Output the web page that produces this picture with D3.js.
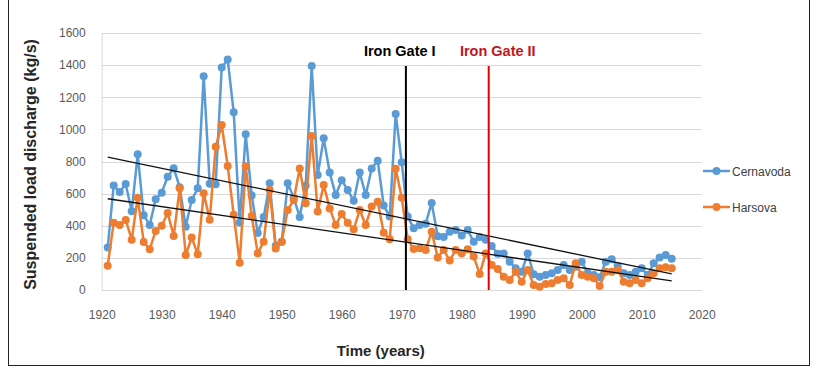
<!DOCTYPE html>
<html>
<head>
<meta charset="utf-8">
<script src="https://cdn.jsdelivr.net/npm/d3@7"></script>
<style>
  html, body { margin: 0; padding: 0; background: #fff; }
  svg { display: block; font-family: "Liberation Sans", Arial, sans-serif; }
</style>
</head>
<body>
<svg id="chart" width="817" height="368"></svg>
<script>
// Annual suspended load discharge (kg/s), lower Danube, 1921–2015
const years = d3.range(1921, 2016);

const cernavoda = [
  265, 650, 610, 660, 490, 845, 465, 405, 565, 606,
  705, 758, 640, 394, 560, 633, 1330, 662, 658, 1385,
  1435, 1106, 420, 970, 588, 355, 455, 664, 275, 301,
  664, 575, 455, 650, 1395, 716, 944, 731, 591, 683,
  623, 555, 731, 591, 757, 805, 526, 457, 1095, 796,
  457, 384, 405, 413, 542, 335, 330, 363, 374, 339,
  374, 300, 330, 313, 274, 225, 228, 176, 135, 114,
  228, 98, 83, 93, 104, 125, 156, 125, 145, 176,
  104, 93, 80, 176, 191, 150, 104, 93, 114, 135,
  93, 166, 203, 218, 195
];

const harsova = [
  151, 419, 405, 436, 313, 575, 299, 254, 368, 400,
  479, 336, 633, 218, 327, 222, 602, 438, 892, 1027,
  772, 469, 170, 770, 460, 228, 301, 623, 258, 301,
  498, 560, 757, 540, 959, 488, 654, 508, 405, 473,
  419, 378, 498, 405, 520, 550, 357, 316, 755, 575,
  316, 255, 260, 249, 363, 203, 249, 183, 249, 228,
  253, 208, 100, 228, 156, 130, 83, 62, 114, 52,
  125, 31, 21, 37, 42, 62, 73, 31, 166, 93,
  83, 73, 25, 114, 114, 125, 52, 42, 62, 42,
  73, 104, 135, 141, 135
];

const seriesNames = ["Cernavoda", "Harsova"];
const seriesColors = ["#5B9BD5", "#ED7D31"];
const xTicks = d3.range(1920, 2021, 10);
const yTicks = d3.range(0, 1601, 200);

// Dam commissioning markers
const damNames = ["Iron Gate I", "Iron Gate II"];
const damYears = [1970.7, 1984.5];
const damColors = ["#000000", "#E00000"];

const svg = d3.select("#chart");

const x = d3.scaleLinear().domain([1920, 2020]).range([101.7, 701.7]);
const y = d3.scaleLinear().domain([0, 1600]).range([290, 33]);

// Outer frame
svg.append("rect")
  .attr("x", 8.5).attr("y", -1).attr("width", 801).attr("height", 366.5)
  .attr("fill", "none").attr("stroke", "#222").attr("stroke-width", 1);

// Horizontal gridlines
svg.append("g")
  .selectAll("line").data(yTicks).join("line")
  .attr("x1", x(1920)).attr("x2", x(2020))
  .attr("y1", d => Math.round(y(d)) + 0.5).attr("y2", d => Math.round(y(d)) + 0.5)
  .attr("stroke", "#d9d9d9").attr("stroke-width", 1);

// Axes
const yAxis = d3.axisLeft(y).tickValues(yTicks).tickFormat(d3.format("d")).tickSize(0).tickPadding(16);
const gy = svg.append("g").attr("transform", `translate(${x(1920)},0)`).call(yAxis);
gy.select(".domain").attr("stroke", "#d9d9d9");
gy.selectAll("text").attr("font-size", 12).attr("fill", "#595959");

const xAxis = d3.axisBottom(x).tickValues(xTicks).tickFormat(d3.format("d")).tickSize(0).tickPadding(20);
const gx = svg.append("g").attr("transform", `translate(0,${y(0)})`).call(xAxis);
gx.select(".domain").attr("stroke", "#d9d9d9");
gx.selectAll("text").attr("font-size", 12).attr("fill", "#595959");

// Axis titles
svg.append("text")
  .attr("transform", `translate(36,${(33 + 290) / 2 + 3}) rotate(-90)`)
  .attr("text-anchor", "middle")
  .attr("font-size", 16).attr("font-weight", "bold").attr("fill", "#262626")
  .text("Suspended load discharge (kg/s)");

svg.append("text")
  .attr("x", (x(1920) + x(2020)) / 2 - 21).attr("y", 356)
  .attr("text-anchor", "middle")
  .attr("font-size", 15).attr("font-weight", "bold").attr("fill", "#262626")
  .text("Time (years)");

// Series
const allSeries = [cernavoda, harsova];
const line = d3.line().x((d, i) => x(years[i])).y(d => y(d));

allSeries.forEach((vals, s) => {
  const g = svg.append("g");
  g.append("path")
    .attr("d", line(vals))
    .attr("fill", "none")
    .attr("stroke", seriesColors[s])
    .attr("stroke-width", 2.5)
    .attr("stroke-linejoin", "round");
  g.selectAll("circle").data(vals).join("circle")
    .attr("cx", (d, i) => x(years[i]))
    .attr("cy", d => y(d))
    .attr("r", 4)
    .attr("fill", seriesColors[s]);
});

// Linear trend lines (least squares)
function linearFit(xs, ys) {
  const mx = d3.mean(xs), my = d3.mean(ys);
  let num = 0, den = 0;
  xs.forEach((v, i) => { num += (v - mx) * (ys[i] - my); den += (v - mx) * (v - mx); });
  const slope = num / den;
  return { slope, intercept: my - slope * mx };
}
allSeries.forEach(vals => {
  const f = linearFit(years, vals);
  const x0 = years[0], x1 = years[years.length - 1];
  svg.append("line")
    .attr("x1", x(x0)).attr("y1", y(f.intercept + f.slope * x0))
    .attr("x2", x(x1)).attr("y2", y(f.intercept + f.slope * x1))
    .attr("stroke", "#111").attr("stroke-width", 1.3);
});

// Dam markers
damYears.forEach((yr, i) => {
  svg.append("line")
    .attr("x1", x(yr)).attr("x2", x(yr))
    .attr("y1", 66).attr("y2", y(0))
    .attr("stroke", damColors[i]).attr("stroke-width", 2);
});
svg.append("text")
  .attr("x", x(damYears[0]) - 42).attr("y", 56)
  .attr("font-size", 14.5).attr("font-weight", "bold").attr("fill", damColors[0])
  .text(damNames[0]);
svg.append("text")
  .attr("x", x(damYears[0]) + 54).attr("y", 56)
  .attr("font-size", 14.5).attr("font-weight", "bold").attr("fill", "#C0161E")
  .text(damNames[1]);

// Legend
const legend = svg.append("g");
seriesNames.forEach((name, i) => {
  const ly = 171 + i * 36;
  legend.append("line")
    .attr("x1", 703).attr("x2", 730).attr("y1", ly).attr("y2", ly)
    .attr("stroke", seriesColors[i]).attr("stroke-width", 2.5);
  legend.append("circle")
    .attr("cx", 716.5).attr("cy", ly).attr("r", 4).attr("fill", seriesColors[i]);
  legend.append("text")
    .attr("x", 732).attr("y", ly + 4.5)
    .attr("font-size", 12).attr("fill", "#404040")
    .text(name);
});
</script>
</body>
</html>
